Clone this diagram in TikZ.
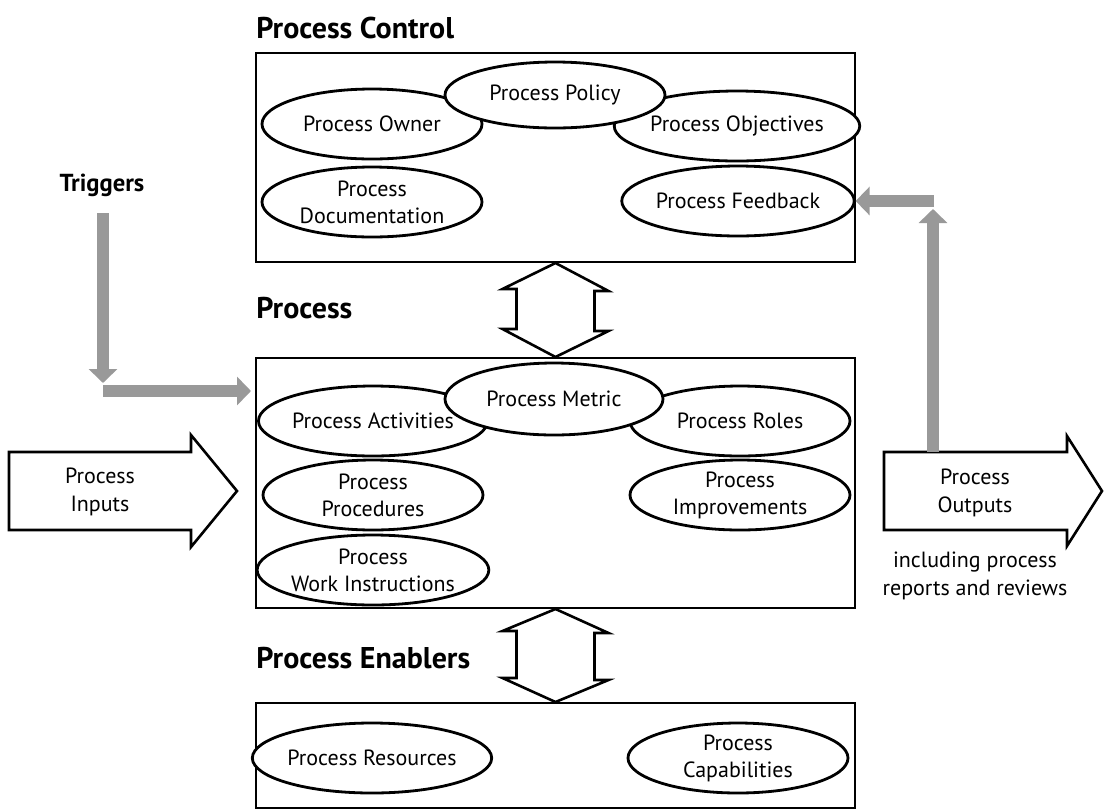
\documentclass[tikz,border=0pt]{standalone}
\usepackage{fontspec}
\setmainfont{PT Sans}
\usepackage{tikz}
\usetikzlibrary{shapes.geometric}
\usetikzlibrary{arrows.meta}

\begin{document}
\begin{tikzpicture}[x=0.5pt, y=-0.5pt,  % one unit is one pixel of the reference
    oval/.style={draw, ellipse, line width=1.4pt, fill=white, minimum width=110pt, minimum height=35pt, inner sep=0pt, align=center, font=\fontsize{11}{13.5}\selectfont},
    panel/.style={draw, line width=1pt, minimum width=299.5pt, inner sep=0pt},
    heading/.style={anchor=west, inner sep=0pt, font=\fontsize{15}{17}\selectfont\bfseries},
    hollow/.style={draw, line width=1.3pt, line join=miter},
    greyarrow/.style={draw=black!40, line width=6pt, -{Triangle[width=14pt, length=7pt]}},
    plain/.style={align=center, inner sep=0pt, font=\fontsize{11}{14}\selectfont}]
    \useasboundingbox (0,0) rectangle (1104,810);

    % Boxes
    \node[panel, minimum height=104.5pt] (ctrl) at (555.5,157.5) {};
    \node[panel, minimum height=125pt] (proc) at (555.5,483) {};
    \node[panel, minimum height=52.5pt] (enab) at (555.5,755.5) {};

    % Headings
    \node[heading] (hctrl) at (256,28) {Process Control};
    \node[heading] (hproc) at (256,308) {Process};
    \node[heading] (henab) at (256,658) {Process Enablers};
    \node[heading, anchor=center, font=\fontsize{12.3}{14}\selectfont\bfseries] (trig) at (102,185) {Triggers};

    % Process control
    \node[oval] (owner) at (372,124) {Process Owner};
    \node[oval] (obj) at (737,126) {Process Objectives};
    \node[oval, minimum height=33pt] (policy) at (555,95) {Process Policy};
    \node[oval] (doc) at (372,202) {Process\\Documentation};
    \node[oval] (fb) at (738,201) {Process Feedback};

    % Process
    \node[oval] (act) at (373,421) {Process Activities};
    \node[oval] (roles) at (740,421) {Process Roles};
    \node[oval, minimum width=109pt, minimum height=36pt] (metric) at (554,399) {Process Metric};
    \node[oval] (proced) at (373,495) {Process\\Procedures};
    \node[oval] (improv) at (740,495) {Process\\Improvements};
    \node[oval] (work) at (373,570) {Process\\Work Instructions};

    % Process enablers
    \node[oval] (res) at (372,758) {Process Resources};
    \node[oval] (cap) at (738,758) {Process\\Capabilities};

    % Two-way arrows between the boxes
    \draw[hollow] (ctrl.south) -- ++(53,28) -- ++(-14,0) -- ++(0,40) -- ++(14,0) -- (proc.north)
        -- ++(-53,-28) -- ++(14,0) -- ++(0,-40) -- ++(-14,0) -- cycle;
    \draw[hollow] (proc.south) -- ++(53,24) -- ++(-14,0) -- ++(0,47) -- ++(14,0) -- (enab.north)
        -- ++(-53,-24) -- ++(14,0) -- ++(0,-47) -- ++(-14,0) -- cycle;

    % Inputs and outputs
    \draw[hollow] (9,452) -- (191,452) -- (191,435) -- (237,491) -- (191,547) -- (191,530) -- (9,530) -- cycle;
    \node[plain] (inputs) at (100,492) {Process\\Inputs};
    \draw[hollow] (884,452) -- (1067,452) -- (1067,436) -- (1102,491) -- (1067,546) -- (1067,530) -- (884,530) -- cycle;
    \node[plain] (outputs) at (975,493) {Process\\Outputs};
    \node[plain] (note) at (975,576) {including process\\reports and reviews};

    % Grey arrows
    \coordinate (ttop) at (103,213);
    \coordinate (tdown) at (103,383);
    \coordinate (tright) at (103,391);
    \draw[greyarrow] (ttop) -- (tdown);
    \draw[greyarrow] (tright) -- ([xshift=-2pt]proc.west |- tright);

    \coordinate (fbase) at (933,452);
    \coordinate (fup) at (933,209);
    \coordinate (fleft) at (934,201);
    \draw[greyarrow] (fbase) -- (fup);
    \draw[greyarrow] (fleft) -- (fb.east);
\end{tikzpicture}
\end{document}
